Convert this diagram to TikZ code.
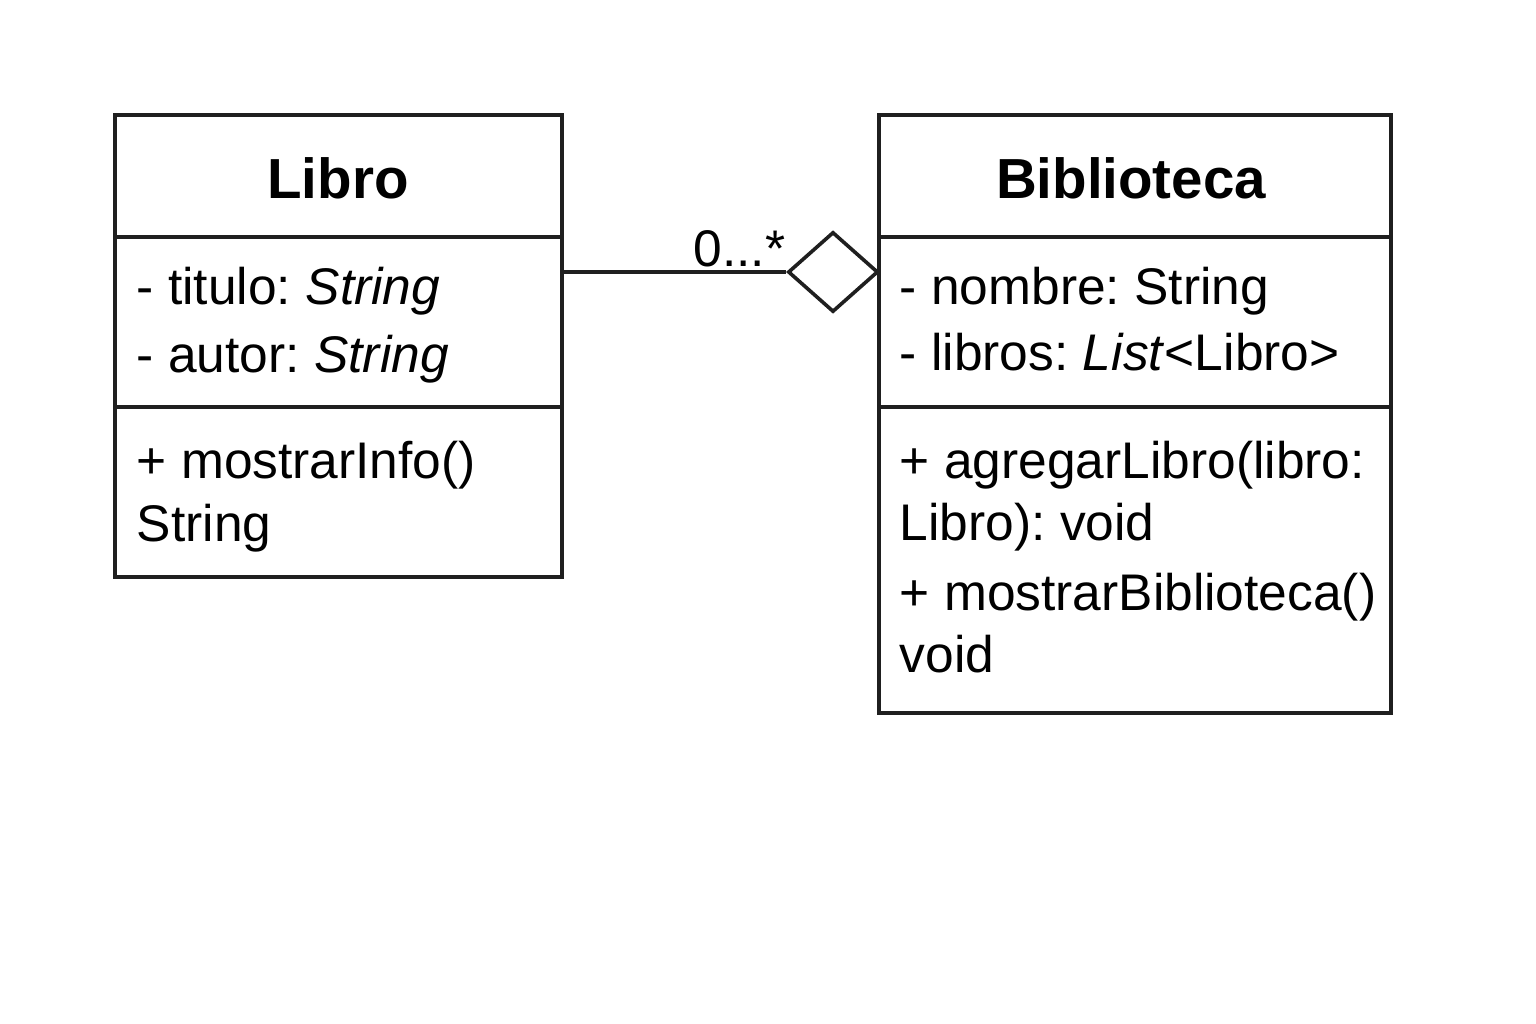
\documentclass[tikz,border=0pt]{standalone}
\usepackage{fontspec}
\setmainfont{Liberation Sans}
\usetikzlibrary{shapes.geometric}
\frenchspacing
\begin{document}
\begin{tikzpicture}[x=1pt,y=-1pt,line width=3.6pt,
  classbox/.style={draw=black!88,anchor=north west,inner sep=0pt},
  ttl/.style={anchor=base,inner sep=0pt,font=\fontsize{56.5}{68}\selectfont\bfseries},
  txt/.style={anchor=base west,inner sep=0pt,font=\fontsize{51.5}{60}\selectfont},
  agg/.style={draw=black!88,shape=diamond,inner sep=0pt,minimum width=90pt,minimum height=80pt}]
\fill[white] (0,0) rectangle (1536,1024);
\useasboundingbox (0,0) rectangle (1536,1024);
% Libro
\node[classbox,minimum width=447pt,minimum height=462pt] (libro) at (113,113) {};
\draw[black!88] ([yshift=-124pt]libro.north west) -- ([yshift=-124pt]libro.north east);
\draw[black!88] ([yshift=-294pt]libro.north west) -- ([yshift=-294pt]libro.north east);
\node[ttl] (libroT) at (338,199) {Libro};
\node[txt] (l1) at (135,305) {- titulo: \textit{String}};
\node[txt] (l2) at (135,372) {- autor: \textit{String}};
\node[txt] (l3) at (135,478) {+ mostrarInfo()};
\node[txt] (l4) at (135,541) {String};
% Biblioteca
\node[classbox,minimum width=512pt,minimum height=598pt] (bib) at (877,113) {};
\draw[black!88] ([yshift=-124pt]bib.north west) -- ([yshift=-124pt]bib.north east);
\draw[black!88] ([yshift=-294pt]bib.north west) -- ([yshift=-294pt]bib.north east);
\node[ttl] (bibT) at (1131,199) {Biblioteca};
\node[txt] (b1) at (898,305) {- nombre: String};
\node[txt] (b2) at (898,370) {- libros: \textit{List}<Libro>};
\node[txt] (b3) at (898,478) {+ agregarLibro(libro:};
\node[txt] (b4) at (898,540) {Libro): void};
\node[txt] (b5) at (898,610) {+ mostrarBiblioteca()};
\node[txt] (b6) at (898,672) {void};
% aggregation
\node[agg] (dia) at (833,272) {};
\draw[black!88] (dia.west -| libro.east) -- (dia.west);
\node[txt,anchor=base east] (mult) at (787,266) {0...*};
\end{tikzpicture}
\end{document}
